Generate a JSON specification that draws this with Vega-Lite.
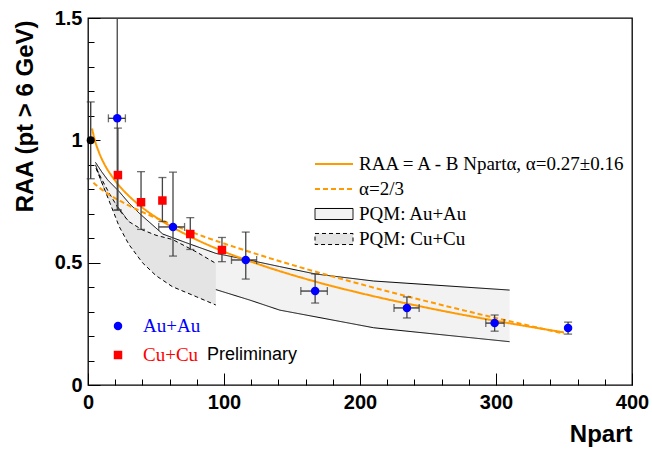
{
  "$schema": "https://vega.github.io/schema/vega-lite/v6.json",
  "width": 544,
  "height": 367,
  "autosize": {"type": "none"},
  "padding": {"left": 88, "top": 18, "right": 20, "bottom": 64},
  "background": "white",
  "config": {
    "view": {"stroke": "#000000", "strokeWidth": 1.3},
    "font": "Liberation Sans",
    "axis": {"labelOverlap": false}
  },
  "resolve": {"axis": {"x": "independent", "y": "independent"}},
  "datasets": {
    "curves": [
      {"model": "fit", "N": 3, "v": 1.048}, {"model": "fit", "N": 5, "v": 1.001}, {"model": "fit", "N": 8, "v": 0.952},
      {"model": "fit", "N": 12, "v": 0.903}, {"model": "fit", "N": 17, "v": 0.858}, {"model": "fit", "N": 23, "v": 0.814},
      {"model": "fit", "N": 30, "v": 0.773}, {"model": "fit", "N": 40, "v": 0.725}, {"model": "fit", "N": 55, "v": 0.668},
      {"model": "fit", "N": 75, "v": 0.607}, {"model": "fit", "N": 100, "v": 0.545}, {"model": "fit", "N": 130, "v": 0.485},
      {"model": "fit", "N": 165, "v": 0.426}, {"model": "fit", "N": 200, "v": 0.376}, {"model": "fit", "N": 250, "v": 0.315},
      {"model": "fit", "N": 300, "v": 0.262}, {"model": "fit", "N": 350, "v": 0.215},
      {"model": "a23", "N": 4, "v": 0.827}, {"model": "a23", "N": 8, "v": 0.808}, {"model": "a23", "N": 15, "v": 0.78},
      {"model": "a23", "N": 25, "v": 0.748}, {"model": "a23", "N": 40, "v": 0.707}, {"model": "a23", "N": 60, "v": 0.66},
      {"model": "a23", "N": 85, "v": 0.607}, {"model": "a23", "N": 115, "v": 0.551}, {"model": "a23", "N": 150, "v": 0.491},
      {"model": "a23", "N": 190, "v": 0.428}, {"model": "a23", "N": 235, "v": 0.362}, {"model": "a23", "N": 280, "v": 0.3},
      {"model": "a23", "N": 320, "v": 0.248}, {"model": "a23", "N": 350, "v": 0.21}
    ],
    "pqm": [
      {"model": "pqmAu", "N": 5.5, "lo": 0.9, "hi": 0.91},
      {"model": "pqmAu", "N": 10, "lo": 0.83, "hi": 0.872},
      {"model": "pqmAu", "N": 14.5, "lo": 0.775, "hi": 0.838},
      {"model": "pqmAu", "N": 23, "lo": 0.72, "hi": 0.79},
      {"model": "pqmAu", "N": 30.4, "lo": 0.663, "hi": 0.742},
      {"model": "pqmAu", "N": 37.7, "lo": 0.6, "hi": 0.702},
      {"model": "pqmAu", "N": 55, "lo": 0.5, "hi": 0.617},
      {"model": "pqmAu", "N": 72, "lo": 0.44, "hi": 0.582},
      {"model": "pqmAu", "N": 94, "lo": 0.39, "hi": 0.538},
      {"model": "pqmAu", "N": 119, "lo": 0.347, "hi": 0.51},
      {"model": "pqmAu", "N": 141, "lo": 0.306, "hi": 0.484},
      {"model": "pqmAu", "N": 167, "lo": 0.279, "hi": 0.454},
      {"model": "pqmAu", "N": 210, "lo": 0.234, "hi": 0.425},
      {"model": "pqmAu", "N": 310, "lo": 0.177, "hi": 0.388},
      {"model": "pqmCu", "N": 6, "lo": 0.885, "hi": 0.885},
      {"model": "pqmCu", "N": 10, "lo": 0.83, "hi": 0.842},
      {"model": "pqmCu", "N": 15, "lo": 0.76, "hi": 0.79},
      {"model": "pqmCu", "N": 23, "lo": 0.647, "hi": 0.715},
      {"model": "pqmCu", "N": 30, "lo": 0.575, "hi": 0.668},
      {"model": "pqmCu", "N": 40, "lo": 0.5, "hi": 0.634},
      {"model": "pqmCu", "N": 50, "lo": 0.447, "hi": 0.612},
      {"model": "pqmCu", "N": 62, "lo": 0.402, "hi": 0.595},
      {"model": "pqmCu", "N": 80, "lo": 0.36, "hi": 0.543},
      {"model": "pqmCu", "N": 94, "lo": 0.327, "hi": 0.497}
    ],
    "pts": [
      {"sys": "Au+Au", "N": 21.5, "v": 1.09, "lo": 0.715, "hi": 1.56, "xlo": 15, "xhi": 27.5},
      {"sys": "Au+Au", "N": 62.5, "v": 0.646, "lo": 0.527, "hi": 0.87, "xlo": 52, "xhi": 71},
      {"sys": "Au+Au", "N": 116, "v": 0.511, "lo": 0.433, "hi": 0.625, "xlo": 105.5, "xhi": 124},
      {"sys": "Au+Au", "N": 167, "v": 0.384, "lo": 0.335, "hi": 0.454, "xlo": 156.5, "xhi": 176},
      {"sys": "Au+Au", "N": 234.5, "v": 0.315, "lo": 0.274, "hi": 0.36, "xlo": 225, "xhi": 243.5},
      {"sys": "Au+Au", "N": 299, "v": 0.253, "lo": 0.22, "hi": 0.286, "xlo": 292.5, "xhi": 306},
      {"sys": "Au+Au", "N": 353, "v": 0.233, "lo": 0.208, "hi": 0.257},
      {"sys": "Cu+Cu", "N": 22, "v": 0.858, "lo": 0.715, "hi": 1.05},
      {"sys": "Cu+Cu", "N": 39, "v": 0.747, "lo": 0.636, "hi": 0.872},
      {"sys": "Cu+Cu", "N": 54.7, "v": 0.754, "lo": 0.668, "hi": 0.848},
      {"sys": "Cu+Cu", "N": 75.2, "v": 0.617, "lo": 0.554, "hi": 0.684},
      {"sys": "Cu+Cu", "N": 98.5, "v": 0.552, "lo": 0.504, "hi": 0.603}
    ],
    "ref": [
      {"N": 2, "v": 1.0, "lo": 0.843, "hi": 1.157}
    ],
    "notes": [
      {"label": "Preliminary"}
    ]
  },
  "layer": [
    {
      "data": {"name": "pqm"},
      "transform": [{"filter": "datum.model == 'pqmAu'"}],
      "mark": {"type": "area", "fill": "#f2f2f2"},
      "encoding": {
        "x": {
          "field": "N", "type": "quantitative", "title": "Npart",
          "scale": {"domain": [0, 400], "nice": false, "zero": false},
          "axis": {
            "orient": "bottom",
            "values": [0, 100, 200, 300, 400],
            "format": "d",
            "tickSize": -12,
            "tickColor": "#000000", "tickWidth": 1,
            "domain": false, "grid": false,
            "labelFont": "Liberation Sans", "labelFontWeight": "bold", "labelFontSize": 20, "labelColor": "#000000",
            "labelPadding": 19, "labelFlush": false, "labelOverlap": false,
            "titleFont": "Liberation Sans", "titleFontWeight": "bold", "titleFontSize": 24, "titleColor": "#000000",
            "titleX": 544, "titleY": 56, "titleAlign": "right", "titleBaseline": "alphabetic"
          }
        },
        "y": {
          "field": "lo", "type": "quantitative", "title": "RAA (pt > 6 GeV)",
          "scale": {"domain": [0, 1.5], "nice": false, "zero": false},
          "axis": {
            "orient": "left",
            "values": [0, 0.5, 1, 1.5],
            "labelExpr": "toString(datum.value)",
            "tickSize": -12,
            "tickColor": "#000000", "tickWidth": 1,
            "domain": false, "grid": false,
            "labelFont": "Liberation Sans", "labelFontWeight": "bold", "labelFontSize": 20, "labelColor": "#000000",
            "labelPadding": 18, "labelFlush": false, "labelOverlap": false,
            "titleFont": "Liberation Sans", "titleFontWeight": "bold", "titleFontSize": 24, "titleColor": "#000000",
            "titleX": -56, "titleY": 2, "titleAlign": "right", "titleBaseline": "alphabetic", "titleAngle": -90
          }
        },
        "y2": {"field": "hi"}
      }
    },
    {
      "data": {"name": "pqm"},
      "transform": [{"filter": "datum.model == 'pqmAu'"}, {"fold": ["lo", "hi"], "as": ["edge", "v"]}],
      "mark": {"type": "line", "strokeWidth": 1},
      "encoding": {
        "x": {"field": "N", "type": "quantitative", "axis": null},
        "y": {"field": "v", "type": "quantitative", "axis": null},
        "detail": {"field": "edge", "type": "nominal"},
        "stroke": {"field": "model", "type": "nominal",
          "scale": {"domain": ["fit", "a23", "pqmAu", "pqmCu"], "range": ["#ff9a00", "#ff9a00", "#000000", "#000000"]},
          "legend": {"title": null, "orient": "none", "legendX": 236.5, "legendY": 136.5, "padding": 0,
            "labelFont": "Liberation Serif", "labelFontSize": 19, "labelColor": "#000000", "labelLimit": 500,
            "labelOffset": 15.5, "rowPadding": 5, "symbolSize": 169,
            "symbolType": {"expr": "(datum.value == 'pqmAu' || datum.value == 'pqmCu') ? 'M-2.923,-0.85H2.923V0.85H-2.923Z' : 'M-2.923,0H2.923'"},
            "symbolFillColor": {"expr": "datum.value == 'pqmAu' ? '#f2f2f2' : datum.value == 'pqmCu' ? '#e4e4e4' : 'transparent'"},
            "symbolStrokeWidth": {"expr": "(datum.value == 'fit' || datum.value == 'a23') ? 2 : 1"},
            "labelExpr": "datum.value == 'fit' ? 'RAA = A - B Npartα, α=0.27±0.16' : datum.value == 'a23' ? 'α=2/3' : datum.value == 'pqmAu' ? 'PQM: Au+Au' : 'PQM: Cu+Cu'"
          }
        },
        "strokeDash": {"field": "model", "type": "nominal",
          "scale": {"domain": ["fit", "a23", "pqmAu", "pqmCu"], "range": [[1, 0], [5, 3], [1, 0], [4, 3]]},
          "legend": {"title": null, "orient": "none", "legendX": 236.5, "legendY": 136.5, "padding": 0,
            "labelFont": "Liberation Serif", "labelFontSize": 19, "labelColor": "#000000", "labelLimit": 500,
            "labelOffset": 15.5, "rowPadding": 5, "symbolSize": 169,
            "symbolType": {"expr": "(datum.value == 'pqmAu' || datum.value == 'pqmCu') ? 'M-2.923,-0.85H2.923V0.85H-2.923Z' : 'M-2.923,0H2.923'"},
            "symbolFillColor": {"expr": "datum.value == 'pqmAu' ? '#f2f2f2' : datum.value == 'pqmCu' ? '#e4e4e4' : 'transparent'"},
            "symbolStrokeWidth": {"expr": "(datum.value == 'fit' || datum.value == 'a23') ? 2 : 1"},
            "labelExpr": "datum.value == 'fit' ? 'RAA = A - B Npartα, α=0.27±0.16' : datum.value == 'a23' ? 'α=2/3' : datum.value == 'pqmAu' ? 'PQM: Au+Au' : 'PQM: Cu+Cu'"
          }
        }
      }
    },
    {
      "data": {"name": "pqm"},
      "transform": [{"filter": "datum.model == 'pqmCu'"}],
      "mark": {"type": "area", "fill": "#e4e4e4"},
      "encoding": {
        "x": {"field": "N", "type": "quantitative", "axis": null},
        "y": {"field": "lo", "type": "quantitative", "axis": null},
        "y2": {"field": "hi"}
      }
    },
    {
      "data": {"name": "pqm"},
      "transform": [{"filter": "datum.model == 'pqmCu'"}, {"fold": ["lo", "hi"], "as": ["edge", "v"]}],
      "mark": {"type": "line", "strokeWidth": 1},
      "encoding": {
        "x": {"field": "N", "type": "quantitative", "axis": null},
        "y": {"field": "v", "type": "quantitative", "axis": null},
        "detail": {"field": "edge", "type": "nominal"},
        "stroke": {"field": "model", "type": "nominal"},
        "strokeDash": {"field": "model", "type": "nominal"}
      }
    },
    {
      "mark": {"type": "rule", "stroke": "#555555", "strokeWidth": 1.2, "strokeDash": [5, 3]},
      "encoding": {"y": {"datum": 1, "type": "quantitative", "axis": null}}
    },
    {
      "data": {"name": "curves"},
      "mark": {"type": "line", "strokeWidth": 2, "interpolate": "monotone"},
      "encoding": {
        "x": {"field": "N", "type": "quantitative",
          "axis": {"orient": "bottom", "title": null, "values": [20, 40, 60, 80, 120, 140, 160, 180, 220, 240, 260, 280, 320, 340, 360, 380],
            "labels": false, "tickSize": -6, "tickColor": "#000000", "tickWidth": 1, "domain": false, "grid": false}},
        "y": {"field": "v", "type": "quantitative",
          "axis": {"orient": "left", "title": null, "values": [0.1, 0.2, 0.3, 0.4, 0.6, 0.7, 0.8, 0.9, 1.1, 1.2, 1.3, 1.4],
            "labels": false, "tickSize": -6, "tickColor": "#000000", "tickWidth": 1, "domain": false, "grid": false}},
        "stroke": {"field": "model", "type": "nominal"},
        "strokeDash": {"field": "model", "type": "nominal"}
      }
    },
    {
      "data": {"name": "pts"},
      "mark": {"type": "rule", "stroke": "#444444", "strokeWidth": 1.3, "clip": true},
      "encoding": {
        "x": {"field": "N", "type": "quantitative", "axis": null},
        "y": {"field": "lo", "type": "quantitative", "axis": null},
        "y2": {"field": "hi"}
      }
    },
    {
      "data": {"name": "pts"},
      "transform": [{"fold": ["lo", "hi"], "as": ["bound", "yv"]}],
      "mark": {"type": "tick", "orient": "horizontal", "color": "#333333", "size": 8, "thickness": 1.3, "clip": true},
      "encoding": {
        "x": {"field": "N", "type": "quantitative", "axis": null},
        "y": {"field": "yv", "type": "quantitative", "axis": null}
      }
    },
    {
      "data": {"name": "pts"},
      "transform": [{"filter": {"field": "xlo", "valid": true}}],
      "mark": {"type": "rule", "stroke": "#333333", "strokeWidth": 1.3},
      "encoding": {
        "x": {"field": "xlo", "type": "quantitative", "axis": null},
        "x2": {"field": "xhi"},
        "y": {"field": "v", "type": "quantitative", "axis": null}
      }
    },
    {
      "data": {"name": "pts"},
      "transform": [{"filter": {"field": "xlo", "valid": true}}, {"fold": ["xlo", "xhi"], "as": ["bound", "xv"]}],
      "mark": {"type": "tick", "orient": "vertical", "color": "#333333", "size": 8, "thickness": 1.3},
      "encoding": {
        "x": {"field": "xv", "type": "quantitative", "axis": null},
        "y": {"field": "v", "type": "quantitative", "axis": null}
      }
    },
    {
      "data": {"name": "ref"},
      "mark": {"type": "rule", "stroke": "#333333", "strokeWidth": 1.3},
      "encoding": {
        "x": {"field": "N", "type": "quantitative", "axis": null},
        "y": {"field": "lo", "type": "quantitative", "axis": null},
        "y2": {"field": "hi"}
      }
    },
    {
      "data": {"name": "ref"},
      "transform": [{"fold": ["lo", "hi"], "as": ["bound", "yv"]}],
      "mark": {"type": "tick", "orient": "horizontal", "color": "#333333", "size": 8, "thickness": 1.3},
      "encoding": {
        "x": {"field": "N", "type": "quantitative", "axis": null},
        "y": {"field": "yv", "type": "quantitative", "axis": null}
      }
    },
    {
      "data": {"name": "pts"},
      "mark": {"type": "point", "filled": true, "size": 72, "strokeWidth": 0, "opacity": 1},
      "encoding": {
        "x": {"field": "N", "type": "quantitative", "axis": null},
        "y": {"field": "v", "type": "quantitative", "axis": null},
        "fill": {"field": "sys", "type": "nominal",
          "scale": {"domain": ["Au+Au", "Cu+Cu"], "range": ["#0000ff", "#ff0000"]},
          "legend": {"title": null, "orient": "none", "legendX": 20.5, "legendY": 298.5, "padding": 0,
            "labelFont": "Liberation Serif", "labelFontSize": 19, "labelOffset": 15.5, "rowPadding": 9,
            "symbolSize": 72, "symbolStrokeWidth": 0,
            "labelColor": {"expr": "datum.value == 'Au+Au' ? '#0000ff' : '#ff0000'"}
          }
        },
        "shape": {"field": "sys", "type": "nominal",
          "scale": {"domain": ["Au+Au", "Cu+Cu"], "range": ["circle", "square"]},
          "legend": {"title": null, "orient": "none", "legendX": 20.5, "legendY": 298.5, "padding": 0,
            "labelFont": "Liberation Serif", "labelFontSize": 19, "labelOffset": 15.5, "rowPadding": 9,
            "symbolSize": 72, "symbolStrokeWidth": 0,
            "labelColor": {"expr": "datum.value == 'Au+Au' ? '#0000ff' : '#ff0000'"}
          }
        }
      }
    },
    {
      "data": {"name": "ref"},
      "mark": {"type": "point", "filled": true, "size": 64, "color": "#000000", "opacity": 1},
      "encoding": {
        "x": {"field": "N", "type": "quantitative", "axis": null},
        "y": {"field": "v", "type": "quantitative", "axis": null}
      }
    },
    {
      "data": {"name": "notes"},
      "mark": {"type": "text", "font": "Liberation Sans", "fontSize": 18, "align": "left", "baseline": "alphabetic", "color": "#000000"},
      "encoding": {
        "x": {"datum": 87.5, "type": "quantitative", "axis": null},
        "y": {"datum": 0.103, "type": "quantitative", "axis": null},
        "text": {"field": "label", "type": "nominal"}
      }
    }
  ]
}
